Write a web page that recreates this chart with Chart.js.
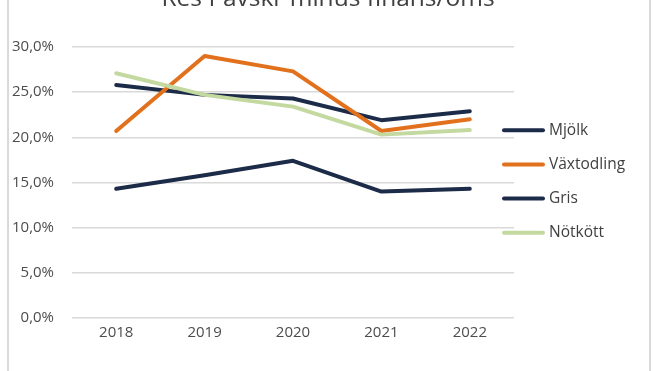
<!DOCTYPE html>
<html lang="sv">
<head>
<meta charset="UTF-8">
<title>Res f avskr minus finans/oms</title>
<style>
  html, body { margin: 0; padding: 0; background: #fff; }
  .frame {
    position: absolute; left: 7px; top: -5px; width: 640px; height: 381px;
    border-left: 2px solid #d9d9d9; border-right: 2px solid #d9d9d9;
  }
  canvas { position: absolute; left: 0; top: 0; }
</style>
</head>
<body>
<div class="frame"></div>
<canvas id="chart" width="660" height="371"></canvas>
<script src="https://cdn.jsdelivr.net/npm/chart.js@4/dist/chart.umd.min.js"></script>
<script>
// data
const years = ["2018", "2019", "2020", "2021", "2022"];
const mjolk = [0.258, 0.247, 0.243, 0.219, 0.229];
const vaxtodling = [0.207, 0.290, 0.273, 0.207, 0.220];
const gris = [0.143, 0.158, 0.174, 0.140, 0.143];
const notkott = [0.271, 0.247, 0.234, 0.203, 0.208];
const seriesNames = ["Mjölk", "Växtodling", "Gris", "Nötkött"];
const seriesColors = ["#1c2b48", "#e2711d", "#1c2b48", "#c4d9a0"];
const chartTitle = "Res f avskr minus finans/oms";

const FONT = "'Open Sans', sans-serif";

function pct(v) {
  return (v * 100).toFixed(1).replace(".", ",") + "%";
}

// title (cut off at the top) and right-side legend
const extras = {
  id: "extras",
  afterDraw(chart) {
    const ctx = chart.ctx;
    const area = chart.chartArea;
    ctx.save();
    ctx.fillStyle = "#404040";
    ctx.font = "24.5px " + FONT;
    ctx.textAlign = "center";
    ctx.textBaseline = "alphabetic";
    ctx.fillText(chartTitle, 328, 6);

    const step = 34.2;
    const midY = (area.top + area.bottom) / 2;
    ctx.font = "15.5px " + FONT;
    ctx.textAlign = "left";
    ctx.textBaseline = "middle";
    chart.data.datasets.forEach((ds, i) => {
      const y = midY + (i - 1.5) * step - 1;
      ctx.strokeStyle = ds.borderColor;
      ctx.lineWidth = 4;
      ctx.lineCap = "round";
      ctx.beginPath();
      ctx.moveTo(area.right - 10, y);
      ctx.lineTo(area.right + 29, y);
      ctx.stroke();
      ctx.fillStyle = "#404040";
      ctx.fillText(ds.label, area.right + 35, y);
    });
    ctx.restore();
  }
};

const lists = [mjolk, vaxtodling, gris, notkott];
const datasets = lists.map((vals, i) => ({
  label: seriesNames[i],
  data: vals,
  borderColor: seriesColors[i],
  backgroundColor: seriesColors[i],
  borderWidth: 4,
  borderJoinStyle: "round",
  borderCapStyle: "round",
  pointRadius: 0,
  tension: 0,
  order: 3 - i
}));

new Chart(document.getElementById("chart"), {
  type: "line",
  data: { labels: years, datasets: datasets },
  plugins: [extras],
  options: {
    responsive: false,
    animation: false,
    layout: { padding: { left: -6, right: 146, top: 47, bottom: 23 } },
    plugins: {
      legend: { display: false },
      title: { display: false },
      tooltip: { enabled: false }
    },
    scales: {
      x: {
        offset: true,
        grid: { display: false, drawTicks: false },
        border: { display: false },
        ticks: { color: "#4d4d4d", font: { family: FONT, size: 15 }, padding: 6 }
      },
      y: {
        min: 0,
        max: 0.30,
        grid: { color: "#d9d9d9", lineWidth: 1.5, drawTicks: false },
        border: { display: false },
        ticks: {
          stepSize: 0.05,
          color: "#4d4d4d",
          font: { family: FONT, size: 15 },
          padding: 18,
          callback: v => pct(v)
        }
      }
    }
  }
});
</script>
</body>
</html>
